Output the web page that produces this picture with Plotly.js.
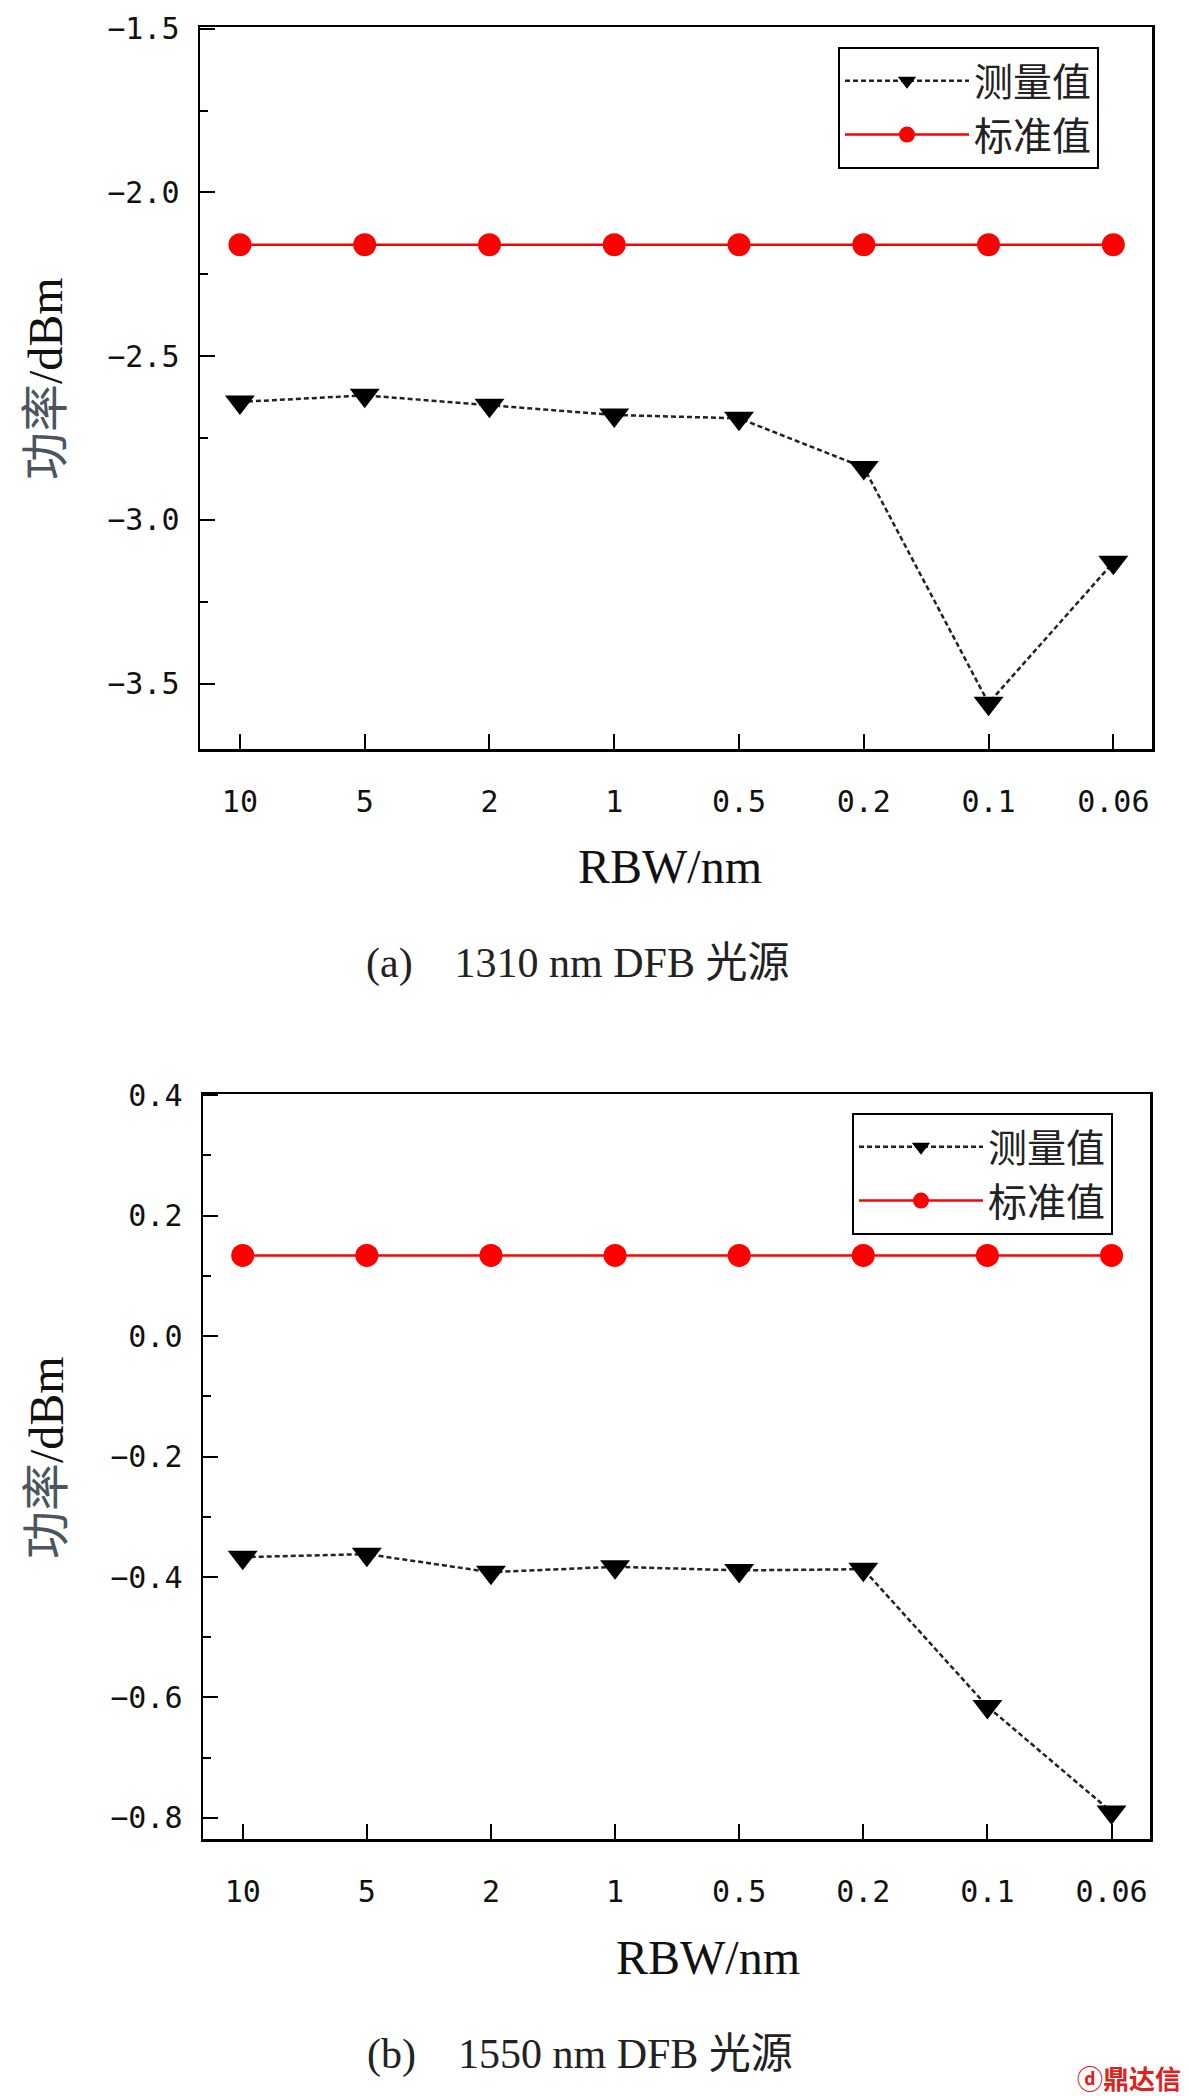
<!DOCTYPE html>
<html>
<head>
<meta charset="utf-8">
<script src="https://cdn.plot.ly/plotly-3.0.1.min.js"></script>
<style>html,body{margin:0;padding:0;background:#fff;}#chart{width:1189px;height:2096px;}</style>
</head>
<body>
<div id="chart"></div>
<script>
// ---- data ----
const categories = ['10', '5', '2', '1', '0.5', '0.2', '0.1', '0.06'];
const measuredA = [-2.64, -2.62, -2.65, -2.68, -2.69, -2.84, -3.56, -3.13];
const standardA = [-2.16, -2.16, -2.16, -2.16, -2.16, -2.16, -2.16, -2.16];
const measuredB = [-0.367, -0.362, -0.392, -0.383, -0.389, -0.387, -0.615, -0.79];
const standardB = [0.134, 0.134, 0.134, 0.134, 0.134, 0.134, 0.134, 0.134];
const seriesNames = ['测量值', '标准值'];
const xTitle = 'RBW/nm';
const yTitle = '<span style="color:#4a5560">功率</span>/dBm';
const captionA = '(a)\u00a0\u00a0\u00a0 1310 nm DFB 光源';
const captionB = '(b)\u00a0\u00a0\u00a0 1550 nm DFB 光源';
const watermark = '<b>ⓓ鼎达信</b>';

// ---- styles ----
const W = 1189, H = 2096;
const tickFont = {family: 'DejaVu Sans Mono', size: 30, color: '#111'};
const serif = 'Liberation Serif, Noto Sans CJK SC';
const measStyle = {
  mode: 'lines+markers',
  line: {color: '#222', width: 2.5, dash: '5px,3px'},
  marker: {symbol: 'triangle-down', size: 26, color: '#000'}
};
const stdStyle = {
  mode: 'lines+markers',
  line: {color: '#ff0000', width: 2.5},
  marker: {symbol: 'circle', size: 23, color: '#ff0000'}
};

const traces = [
  Object.assign({x: categories, y: measuredA, name: seriesNames[0], xaxis: 'x', yaxis: 'y', legend: 'legend'}, measStyle),
  Object.assign({x: categories, y: standardA, name: seriesNames[1], xaxis: 'x', yaxis: 'y', legend: 'legend'}, stdStyle),
  Object.assign({x: categories, y: measuredB, name: seriesNames[0], xaxis: 'x2', yaxis: 'y2', legend: 'legend2'}, measStyle),
  Object.assign({x: categories, y: standardB, name: seriesNames[1], xaxis: 'x2', yaxis: 'y2', legend: 'legend2'}, stdStyle)
];

function px(v){ return v / W; }
function py(v){ return 1 - v / H; }

const xRange = [-0.32, 7.31];
function catAxis(domain, anchor) {
  return {
    domain: domain, anchor: anchor, type: 'category', range: xRange,
    showline: true, linecolor: '#000', linewidth: 2.5, mirror: true,
    ticks: 'inside', ticklen: 15, tickwidth: 2, tickcolor: '#000',
    tickfont: tickFont, ticklabelstandoff: 24,
    showgrid: false, zeroline: false, automargin: false
  };
}
function minorXAxis(over, anchor) {
  return {
    overlaying: over, anchor: anchor, type: 'linear', range: xRange,
    tickmode: 'linear', tick0: 0.5, dtick: 1,
    ticks: 'inside', ticklen: 8, tickwidth: 2, tickcolor: '#000',
    showticklabels: false, showgrid: false, zeroline: false, showline: false, automargin: false
  };
}
function valAxis(domain, anchor, range, dtick) {
  return {
    domain: domain, anchor: anchor, range: range,
    tickmode: 'linear', tick0: 0, dtick: dtick, tickformat: '.1f',
    showline: true, linecolor: '#000', linewidth: 2.5, mirror: true,
    ticks: 'inside', ticklen: 15, tickwidth: 2, tickcolor: '#000',
    minor: {ticks: 'inside', ticklen: 8, tickwidth: 2, tickcolor: '#000', dtick: dtick / 2, tick0: 0},
    tickfont: tickFont, ticklabelstandoff: 12,
    showgrid: false, zeroline: false, automargin: false
  };
}

const legendBase = {
  xanchor: 'right', yanchor: 'top', bgcolor: '#fff', bordercolor: '#000', borderwidth: 2,
  font: {family: 'Noto Sans CJK SC', size: 39, color: '#222'}, itemwidth: 124, tracegroupgap: 0
};

function note(text, x, y, size, extra) {
  return Object.assign({text: text, xref: 'paper', yref: 'paper', x: px(x), y: py(y),
    xanchor: 'center', yanchor: 'middle', showarrow: false,
    font: {family: serif, size: size, color: '#111'}}, extra || {});
}

const layout = {
  width: W, height: H, margin: {l: 0, r: 0, t: 0, b: 0, autoexpand: false},
  paper_bgcolor: '#fff', plot_bgcolor: '#fff',
  showlegend: true,
  xaxis: catAxis([px(200), px(1152)], 'y'),
  yaxis: valAxis([py(749), py(27)], 'x', [-3.7, -1.495], 0.5),
  xaxis2: catAxis([px(203), px(1150)], 'y2'),
  yaxis2: valAxis([py(1839), py(1094)], 'x2', [-0.835, 0.402], 0.2),
  xaxis3: minorXAxis('x', 'y'),
  xaxis4: minorXAxis('x2', 'y2'),
  legend: Object.assign({x: px(1099), y: py(47)}, legendBase),
  legend2: Object.assign({x: px(1113), y: py(1113)}, legendBase),
  annotations: [
    note(xTitle, 670, 867, 48),
    note(xTitle, 708, 1957, 48),
    note(yTitle, 45, 378, 48, {textangle: -90}),
    note(yTitle, 46, 1458, 48, {textangle: -90}),
    note(captionA, 578, 963, 42, {font: {family: serif, size: 42, color: '#222'}}),
    note(captionB, 580, 2054, 42, {font: {family: serif, size: 42, color: '#222'}}),
    note(watermark, 1183, 2077, 26, {xanchor: 'right', font: {family: 'Noto Sans CJK SC', size: 26, color: '#e0201a'}})
  ]
};

Plotly.newPlot('chart', traces, layout, {displayModeBar: false, staticPlot: true});
</script>
</body>
</html>
